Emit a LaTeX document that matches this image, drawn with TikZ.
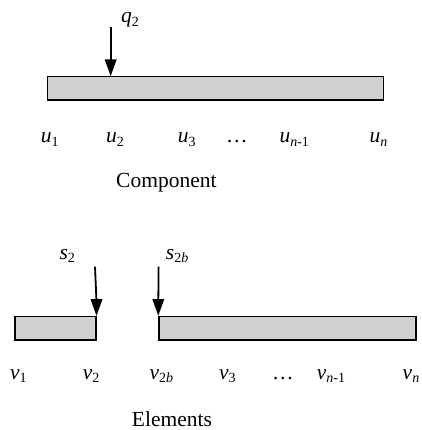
\documentclass[tikz,border=0pt]{standalone}
\usepackage{fontspec}
\setmainfont{Liberation Serif}
\usetikzlibrary{arrows.meta}
\newcommand{\lbl}[2]{\textit{#1}\raisebox{-3.5pt}{\fontsize{14}{14}\selectfont #2}}
\tikzset{
  bar/.style={draw=black, line width=1.5pt, fill={rgb,255:red,208;green,209;blue,211}, inner sep=0pt, anchor=north west},
  load/.style={line width=1.8pt},
  head/.style={fill=black},
  txt/.style={inner sep=0pt, anchor=base west, font=\fontsize{21.5}{24}\selectfont},
}
\newcommand{\loadarrow}[2]{%
  \draw[load] (#1) -- ([yshift=14pt]#2);
  \fill[head] (#2) -- ++(-6,-16.5) -- ++(12,0) -- cycle;}
\begin{document}
\begin{tikzpicture}[x=1pt,y=-1pt]
\useasboundingbox (0,0) rectangle (421,430);
% Component
\node[bar, minimum width=336pt, minimum height=23.5pt] (comp) at (46.7,76) {};
\coordinate (q2top) at (110.7,26.7);
\coordinate (q2tip) at (110.7,76);
\loadarrow{q2top}{q2tip}
\node[txt] (q2) at (121,23) {\lbl{q}{2}};
\node[txt] (u1) at (40.7,143) {\lbl{u}{1}};
\node[txt] (u2) at (106,143) {\lbl{u}{2}};
\node[txt] (u3) at (177.7,143) {\lbl{u}{3}};
\node[txt] (ud) at (226,143) {\dots};
\node[txt] (un1) at (279.3,143) {\lbl{u}{\textit{n}-1}};
\node[txt] (un) at (369.3,143) {\lbl{u}{\textit{n}}};
\node[txt] (ctitle) at (116,188) {Component};
% Elements
\node[bar, minimum width=80.7pt, minimum height=23.5pt] (e1) at (14.3,315.7) {};
\node[bar, minimum width=256.7pt, minimum height=23.5pt] (e2) at (158.3,315.7) {};
\coordinate (s2top) at (95,266.7);
\coordinate (s2btop) at (158.6,266.7);
\loadarrow{s2top}{e1.north east}
\loadarrow{s2btop}{e2.north west}
\node[txt] (s2) at (59.3,259) {\lbl{s}{2}};
\node[txt] (s2b) at (165.7,259) {\lbl{s}{2\textit{b}}};
\node[txt] (v1) at (10,379.3) {\lbl{v}{1}};
\node[txt] (v2) at (82.7,379.3) {\lbl{v}{2}};
\node[txt] (v2b) at (149.3,379.3) {\lbl{v}{2\textit{b}}};
\node[txt] (v3) at (219,379.3) {\lbl{v}{3}};
\node[txt] (vd) at (272,379.3) {\dots};
\node[txt] (vn1) at (316.7,379.3) {\lbl{v}{\textit{n}-1}};
\node[txt] (vn) at (402.5,379.3) {\lbl{v}{\textit{n}}};
\node[txt] (etitle) at (131.7,426) {Elements};
\end{tikzpicture}
\end{document}
